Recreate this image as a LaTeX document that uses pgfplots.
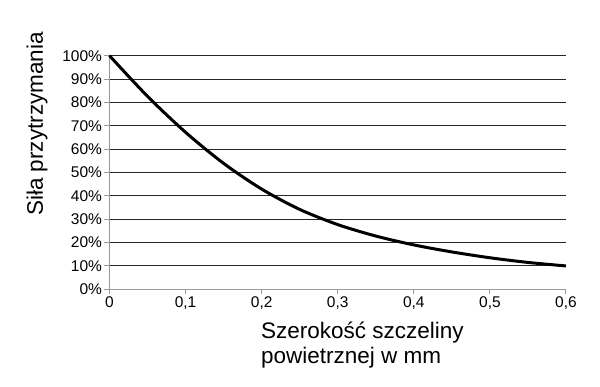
\documentclass[border=0pt]{standalone}
\usepackage{fontspec}
\setmainfont{Liberation Sans}
\usepackage{pgfplots}
\pgfplotsset{compat=1.18}
\begin{document}
\begin{tikzpicture}[x=1pt,y=1pt]
\path[use as bounding box] (0,0) rectangle (600,386);
\begin{axis}[
  at={(109.5pt,96.7pt)}, anchor=south west,
  width=456.5pt, height=233.6pt, scale only axis,
  xmin=0, xmax=0.6, ymin=0, ymax=100,
  axis x line*=bottom, axis y line*=left,
  axis line style={draw=gray!80, line width=1pt},
  xtick={0,0.1,0.2,0.3,0.4,0.5,0.6},
  xticklabels={0,{0,1},{0,2},{0,3},{0,4},{0,5},{0,6}},
  ytick={0,10,...,100},
  yticklabels={0\%,10\%,20\%,30\%,40\%,50\%,60\%,70\%,80\%,90\%,100\%},
  tick align=outside, major tick length=5pt,
  tick style={draw=gray!80, line width=1pt},
  ymajorgrids, grid style={draw=black!85, line width=0.9pt},
  ticklabel style={font=\fontsize{15.5}{17}\selectfont},
  xticklabel style={yshift=1pt},
  yticklabel style={xshift=1pt},
  clip=false,
]
\addplot[black, line width=3pt, smooth] coordinates {
(0,100) (0.05,82.6) (0.1,67.2) (0.15,53.9) (0.2,42.9) (0.25,34.2) (0.3,27.7) (0.35,22.8) (0.4,19.0) (0.45,16.0) (0.5,13.5) (0.55,11.5) (0.6,10)
};
\end{axis}
\node[rotate=90, font=\fontsize{22.5}{25}\selectfont] at (37,262) {Siła przytrzymania};
\node[anchor=base west, inner sep=0pt, font=\fontsize{22.5}{25}\selectfont] at (261,48) {Szerokość szczeliny};
\node[anchor=base west, inner sep=0pt, font=\fontsize{22.5}{25}\selectfont] at (261,23) {powietrznej w mm};
\end{tikzpicture}
\end{document}
